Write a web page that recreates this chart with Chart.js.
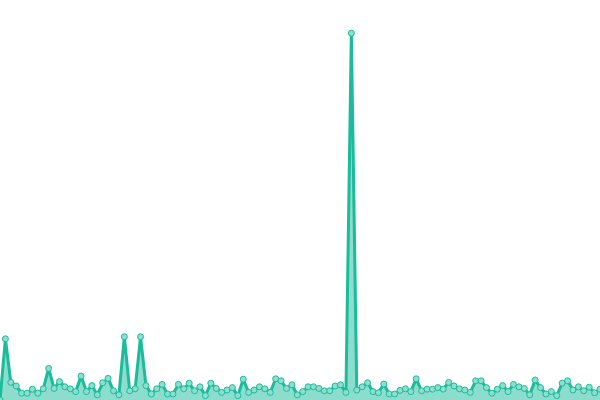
<!DOCTYPE html>
<html>
<head>
<meta charset="utf-8">
<script src="https://cdn.jsdelivr.net/npm/chart.js@4/dist/chart.umd.min.js"></script>
<style>
  html, body { margin: 0; padding: 0; background: #fff; }
  #wrap { width: 600px; height: 400px; position: relative; }
</style>
</head>
<body>
<div id="wrap"><canvas id="chart"></canvas></div>
<script>
// values (0..100 scale)
const values = [
  0, 15.3, 4.4, 3.5, 1.7, 1.7, 2.7, 1.7, 2.8, 7.9,
  2.9, 4.6, 3.3, 2.8, 2.1, 6.0, 2.1, 3.6, 1.3, 4.3,
  5.4, 2.3, 1.3, 15.8, 2.3, 2.8, 15.8, 3.6, 1.5, 2.8,
  3.9, 1.5, 1.5, 3.9, 2.8, 4.2, 2.3, 3.3, 1.1, 4.2,
  2.9, 1.9, 2.5, 3.1, 1.1, 5.2, 1.9, 2.5, 3.3, 2.8,
  1.9, 5.3, 4.8, 2.9, 3.8, 1.3, 2.1, 3.3, 3.3, 2.9,
  2.3, 2.3, 3.5, 3.8, 1.9, 91.7, 2.5, 3.3, 4.3, 2.1,
  1.8, 4.0, 1.5, 1.5, 2.4, 2.8, 2.1, 5.3, 2.3, 2.7,
  2.7, 3.1, 2.7, 4.4, 3.5, 2.8, 2.5, 1.9, 4.8, 4.8,
  3.1, 1.7, 2.7, 3.6, 2.1, 3.9, 3.3, 2.9, 1.3, 5.0,
  3.1, 1.5, 2.1, 1.1, 4.2, 4.8, 2.5, 3.3, 2.3, 3.2,
  1.8, 2.7
];
const labels = values.map((_, i) => i + 1);

const teal = '#1abc9c';
const tealFill = 'rgba(26, 188, 156, 0.5)';
const pointFill = '#8ddece';

new Chart(document.getElementById('chart'), {
  type: 'line',
  data: {
    labels,
    datasets: [{
      data: values,
      borderColor: teal,
      borderWidth: 3,
      borderJoinStyle: 'round',
      backgroundColor: tealFill,
      pointBackgroundColor: pointFill,
      pointBorderColor: teal,
      pointBorderWidth: 1,
      pointRadius: 3,
      tension: 0,
      fill: 'origin'
    }]
  },
  options: {
    responsive: true,
    maintainAspectRatio: false,
    animation: false,
    layout: { autoPadding: false, padding: 0 },
    plugins: { legend: { display: false }, tooltip: { enabled: false } },
    scales: {
      x: { display: false, offset: false },
      y: { display: false, min: 0, max: 100 }
    }
  }
});
</script>
</body>
</html>
